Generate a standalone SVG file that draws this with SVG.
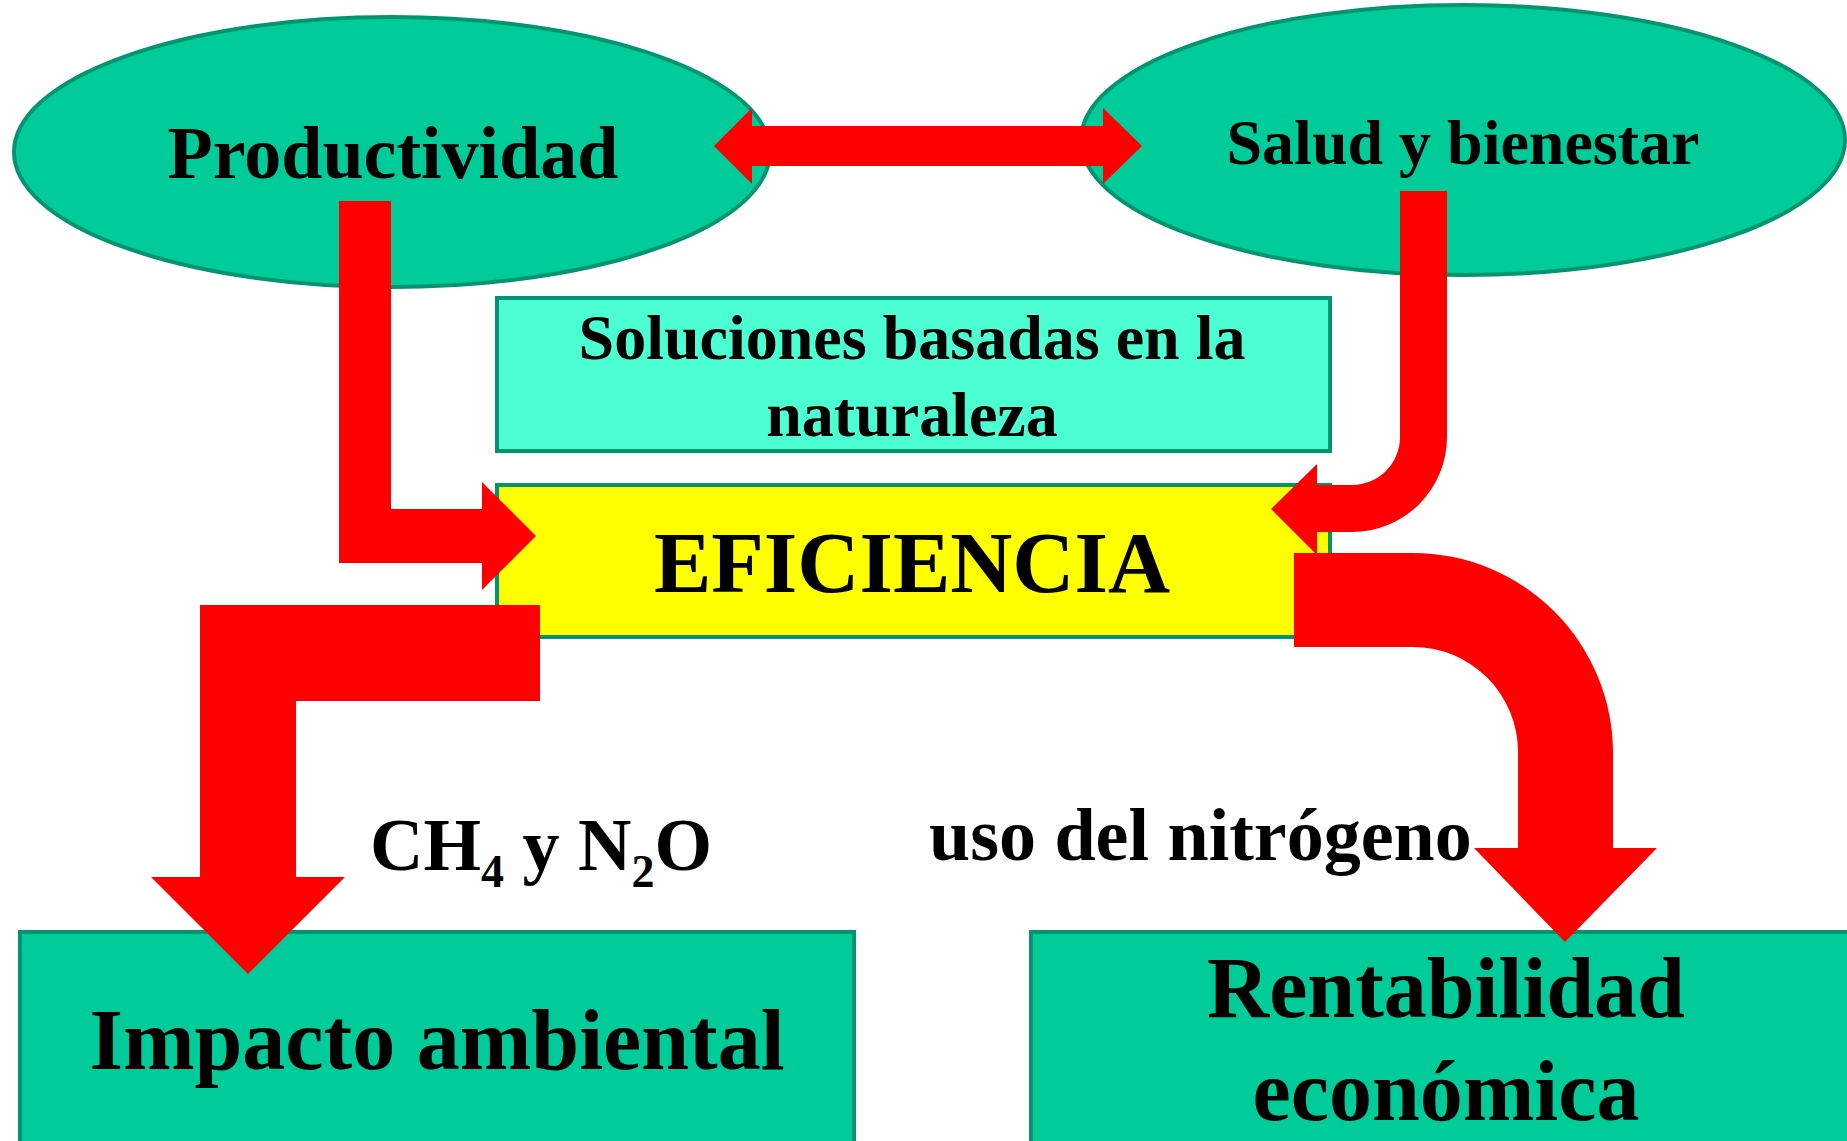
<svg xmlns="http://www.w3.org/2000/svg" width="1847" height="1141" viewBox="0 0 1847 1141">
<style>
.t{font-family:"Liberation Serif","Times New Roman",serif;font-weight:bold;fill:#000;text-anchor:middle}
.ell{fill:#00CC99;stroke:#009473;stroke-width:4}
.box{stroke:#009473;stroke-width:4}
.arr{fill:#FF0000}
</style>
<rect width="1847" height="1141" fill="#fff"/>
<g id="productividad">
<ellipse class="ell" cx="392" cy="152" rx="378" ry="135"/>
<text class="t" x="393" y="178" font-size="74">Productividad</text>
</g>
<g id="salud">
<ellipse class="ell" cx="1463" cy="140" rx="382" ry="135"/>
<text class="t" x="1463" y="164" font-size="64">Salud y bienestar</text>
</g>
<g id="soluciones">
<rect class="box" x="497" y="298" width="833" height="153" fill="#4BFFD3"/>
<text class="t" x="912" y="359" font-size="64">Soluciones basadas en la</text>
<text class="t" x="912" y="436" font-size="64">naturaleza</text>
</g>
<g id="eficiencia">
<rect class="box" x="497" y="485" width="833" height="152" fill="#FFFF00"/>
<text class="t" x="912" y="592" font-size="86">EFICIENCIA</text>
</g>
<g id="impacto">
<rect class="box" x="20" y="932" width="834" height="215" fill="#00CC99"/>
<text class="t" x="437" y="1069" font-size="86">Impacto ambiental</text>
</g>
<g id="rentabilidad">
<rect class="box" x="1031" y="932" width="830" height="215" fill="#00CC99"/>
<text class="t" x="1446" y="1017" font-size="86">Rentabilidad</text>
<text class="t" x="1446" y="1120" font-size="86">económica</text>
</g>
<g id="connectors">
<path class="arr" d="M714,146 L752,108 V126 H1103 V108 L1142,146 L1103,184 V166 H752 V184 Z"/>
<path class="arr" d="M339,201 H391 V509 H482 V482 L536,536 L482,590 V563 H339 Z"/>
<path class="arr" d="M1400,191 H1447 V437 A95,95 0 0 1 1352,532 H1317 V555 L1271,509 L1317,464 V485 H1352 A48,48 0 0 0 1400,437 Z"/>
<path class="arr" d="M200,605 H540 V701 H296 V877 H345 L248,974 L151,877 H200 Z"/>
<path class="arr" d="M1294,553 H1413 A200,200 0 0 1 1613,753 V848 H1657 L1565,942 L1474,848 H1518 V753 A105,105 0 0 0 1413,647 H1294 Z"/>
</g>
<g id="labels">
<text class="t" x="370" y="870" font-size="74" style="text-anchor:start">CH<tspan font-size="46" dy="17">4</tspan><tspan dy="-17"> y N</tspan><tspan font-size="46" dy="17">2</tspan><tspan dy="-17">O</tspan></text>
<text class="t" x="929" y="860" font-size="74" style="text-anchor:start">uso del nitrógeno</text>
</g>
</svg>
